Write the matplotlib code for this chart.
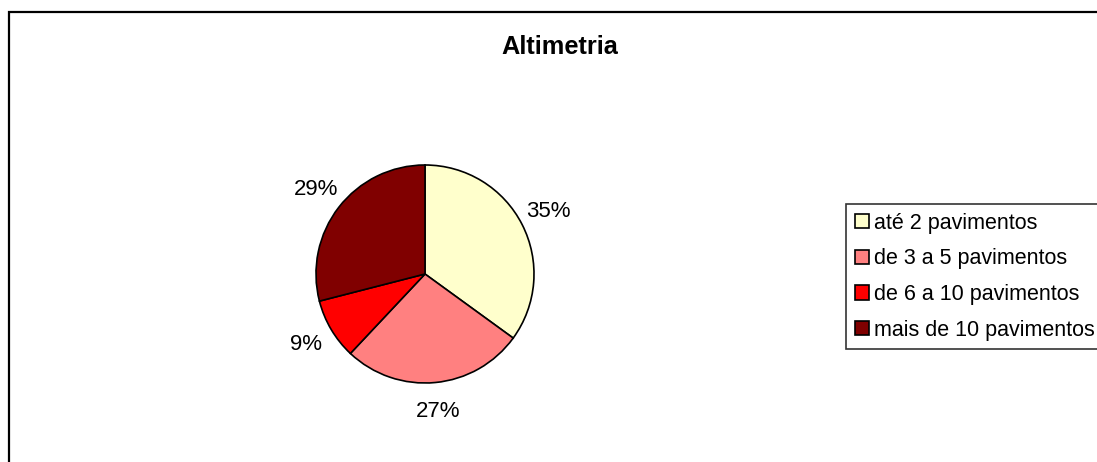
import matplotlib.pyplot as plt
from matplotlib.patches import Rectangle

plt.rcParams['font.family'] = ['Liberation Sans', 'DejaVu Sans']

categorias = ["até 2 pavimentos", "de 3 a 5 pavimentos",
              "de 6 a 10 pavimentos", "mais de 10 pavimentos"]
valores = [35, 27, 9, 29]
cores = ["#FFFFCC", "#FF8080", "#FF0000", "#800000"]

W, H = 1097, 462
fig = plt.figure(figsize=(W / 100, H / 100), dpi=100)

# moldura do gráfico
fig.add_artist(Rectangle((9 / W, -0.05), 1.2, 1 - 12 / H + 0.05,
                         transform=fig.transFigure, fill=False,
                         edgecolor="black", linewidth=1.6))

cx, cy, r = 425, 274, 109
ax = fig.add_axes([(cx - r) / W, (H - cy - r) / H, 2 * r / W, 2 * r / H])
wedges, _, pcts = ax.pie(valores, colors=cores, startangle=90, counterclock=False,
                         autopct='%1.0f%%', pctdistance=1.27, radius=1,
                         wedgeprops=dict(edgecolor="black", linewidth=1.2),
                         textprops=dict(fontsize=16))
ax.set_xlim(-1, 1)
ax.set_ylim(-1, 1)
ax.set_aspect("equal")
ax.axis("off")

fig.text(560 / W, 1 - 47 / H, "Altimetria", ha="center", va="center",
         fontsize=18.3, fontweight="bold")

leg = fig.legend(wedges, categorias, loc="upper left",
                 bbox_to_anchor=(846 / W, 1 - 204 / H), fontsize=15.5,
                 frameon=True, fancybox=False, edgecolor="black",
                 handlelength=0.65, handleheight=0.65, handletextpad=0.25,
                 labelspacing=0.68, borderpad=0.4, borderaxespad=0)
leg.get_frame().set_linewidth(1.2)

fig.savefig("out.png", dpi=100, facecolor="white")
